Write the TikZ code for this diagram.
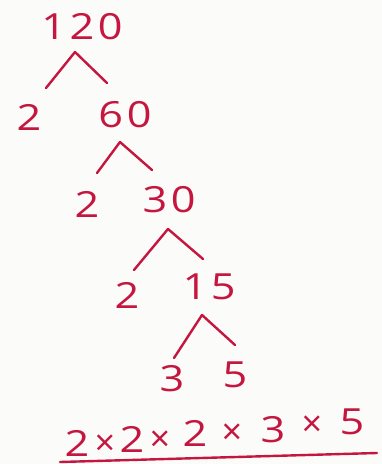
\documentclass[tikz,border=0pt]{standalone}
\usepackage{fontspec}
\setmainfont{Open Sans}
\newfontfamily\handfont[LetterSpace=10,FakeStretch=1.2]{Open Sans}
\begin{document}
\definecolor{ink}{RGB}{196,22,62}
\definecolor{paper}{RGB}{251,251,250}
\begin{tikzpicture}[x=1pt,y=-1pt,
  num/.style={text=ink,font=\handfont\fontsize{36}{36}\selectfont,inner sep=0pt},
  small/.style={text=ink,font=\fontsize{36}{36}\selectfont,inner sep=0pt},
  branch/.style={draw=ink,line width=2.4pt,line cap=round,line join=round}]
\fill[paper] (0,0) rectangle (382,464);
\useasboundingbox (0,0) rectangle (382,464);
% numbers
\node[num] (n120) at (82,27) {120};
\node[num] (n2a) at (29,117) {2};
\node[num] (n60) at (125,115) {60};
\node[num] (n2b) at (87,204) {2};
\node[num] (n30) at (169,200) {30};
\node[num] (n2c) at (127,295) {2};
\node[num] (n15) at (209,287) {15};
\node[num] (n3) at (172,379) {3};
\node[num] (n5) at (235,375) {5};
% carets
\coordinate (a1) at (75,52); \coordinate (l1) at (46,88); \coordinate (r1) at (107,83);
\coordinate (a2) at (120,142); \coordinate (l2) at (97,173); \coordinate (r2) at (152,170);
\coordinate (a3) at (168,229); \coordinate (l3) at (134,270); \coordinate (r3) at (203,259);
\coordinate (a4) at (202,315); \coordinate (l4) at (174,358); \coordinate (r4) at (235,345);
\draw[branch] (l1) -- (a1) -- (r1);
\draw[branch] (l2) -- (a2) -- (r2);
\draw[branch] (l3) -- (a3) -- (r3);
\draw[branch] (l4) -- (a4) -- (r4);
% product
\node[num] (f1) at (77,443) {2};
\node[small] (x1) at (105,445) {×};
\node[num] (f2) at (132,439) {2};
\node[small] (x2) at (160,441) {×};
\node[num] (f3) at (195,433) {2};
\node[small] (x3) at (232,434) {×};
\node[num] (f4) at (273,430) {3};
\node[small] (x4) at (312,426) {×};
\node[num] (f5) at (352,422) {5};
\coordinate (u1) at (60,462); \coordinate (u2) at (377,453);
\draw[branch] (u1) -- (u2);
\end{tikzpicture}
\end{document}
